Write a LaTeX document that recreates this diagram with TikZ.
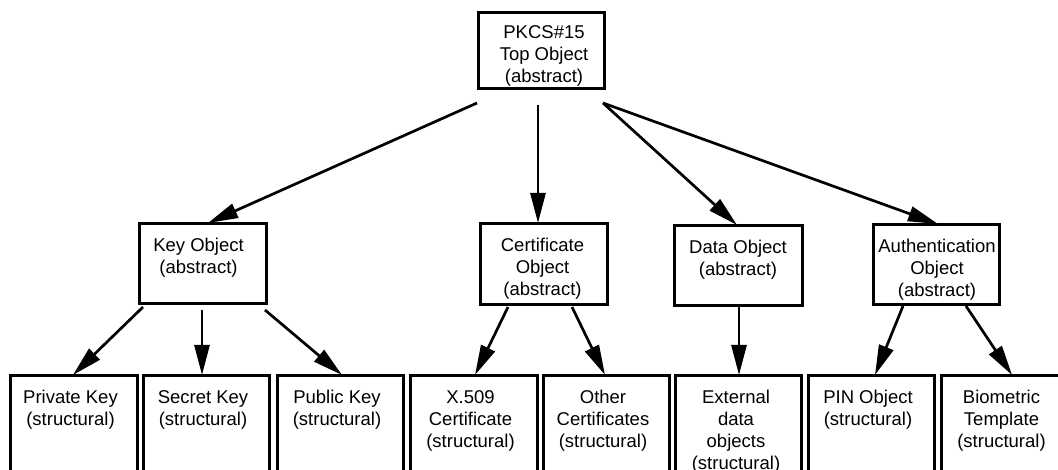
\documentclass[tikz,border=0pt]{standalone}
\usepackage{fontspec}
\setmainfont{Liberation Sans}
\usetikzlibrary{arrows.meta,calc}
\begin{document}
\begin{tikzpicture}[x=1pt,y=-1pt,
  box/.style={draw, line width=3pt, rectangle, inner sep=0pt, outer sep=0pt},
  lbl/.style={inner sep=0pt, align=center, anchor=north,
    font=\fontsize{18.5}{22}\selectfont},
  arr/.style={draw, line width=2.7pt, -{Triangle[length=30pt,width=15pt]}}]
\useasboundingbox (0,0) rectangle (1058,470);
\clip (0,0) rectangle (1058,470);

% abstract object classes
\node[box, minimum width=126pt, minimum height=76pt] (top)  at (541,51)    {};
\node[box, minimum width=127pt, minimum height=80pt] (key)  at (202.5,264) {};
\node[box, minimum width=127pt, minimum height=81pt] (cert) at (543.5,264.5) {};
\node[box, minimum width=128pt, minimum height=80pt] (data) at (738,266)   {};
\node[box, minimum width=126pt, minimum height=80pt] (auth) at (936,265)   {};

% structural object classes (running past the lower edge)
\node[box, minimum width=127pt, minimum height=104pt] (priv) at (73.5,428)  {};
\node[box, minimum width=126pt, minimum height=104pt] (sec)  at (206,428)   {};
\node[box, minimum width=126pt, minimum height=104pt] (pub)  at (340,428)   {};
\node[box, minimum width=127pt, minimum height=104pt] (x509) at (473.5,428) {};
\node[box, minimum width=126pt, minimum height=104pt] (oth)  at (606,428)   {};
\node[box, minimum width=126pt, minimum height=104pt] (ext)  at (738,428)   {};
\node[box, minimum width=126pt, minimum height=104pt] (pin)  at (871,428)   {};
\node[box, minimum width=127pt, minimum height=104pt] (bio)  at (1004.5,428) {};

% box captions, top-aligned
\node[lbl] (top-t)  at ([xshift=3pt,yshift=-12pt]top.north)  {PKCS\#15\\Top Object\\(abstract)};
\node[lbl] (key-t)  at ([xshift=-4pt,yshift=-14pt]key.north)  {Key Object\\(abstract)};
\node[lbl] (cert-t) at ([xshift=-1pt,yshift=-14pt]cert.north) {Certificate\\Object\\(abstract)};
\node[lbl] (data-t) at ([yshift=-14pt]data.north) {Data Object\\(abstract)};
\node[lbl] (auth-t) at ([xshift=1pt,yshift=-14pt]auth.north) {Authentication\\Object\\(abstract)};
\node[lbl] (priv-t) at ([xshift=-3pt,yshift=-14pt]priv.north) {Private Key\\(structural)};
\node[lbl] (sec-t)  at ([xshift=-3pt,yshift=-14pt]sec.north)  {Secret Key\\(structural)};
\node[lbl] (pub-t)  at ([xshift=-3pt,yshift=-14pt]pub.north)  {Public Key\\(structural)};
\node[lbl] (x509-t) at ([xshift=-3pt,yshift=-14pt]x509.north) {X.509\\Certificate\\(structural)};
\node[lbl] (oth-t)  at ([xshift=-3pt,yshift=-14pt]oth.north)  {Other\\Certificates\\(structural)};
\node[lbl] (ext-t)  at ([xshift=-2pt,yshift=-14pt]ext.north)  {External\\data\\objects\\(structural)};
\node[lbl] (pin-t)  at ([xshift=-3pt,yshift=-14pt]pin.north)  {PIN Object\\(structural)};
\node[lbl] (bio-t)  at ([xshift=-3pt,yshift=-14pt]bio.north)  {Biometric\\Template\\(structural)};

% inheritance arrows
\draw[arr] ($(top.south west)+(-1,14)$) -- ($(key.north)+(5.5,-1)$);
\draw[arr] ($(top.south)+(-3,16)$)      -- ($(cert.north)+(-5.5,-1)$);
\draw[arr] ($(top.south east)+(-1,14)$) -- ($(data.north)+(-1,-1)$);
\draw[arr] ($(top.south east)+(-1,14)$) -- ($(auth.north)+(2,-1)$);

\draw[arr] ($(key.south west)+(4,3)$)   -- ($(priv.north)+(-0.5,-1)$);
\draw[arr] ($(key.south)+(-0.5,6)$)     -- ($(sec.north)+(-4,-1)$);
\draw[arr] ($(key.south east)+(-1,6)$)  -- ($(pub.north)+(2,-1)$);

\draw[arr] ($(cert.south)+(-35.5,2)$)   -- ($(x509.north)+(1.5,-1)$);
\draw[arr] ($(cert.south)+(28.5,2)$)    -- ($(oth.north)+(-1,-1)$);

\draw[arr] ($(data.south)+(1,1)$)       -- ($(ext.north)+(1,-1)$);

\draw[arr] ($(auth.south)+(-33,1)$)     -- ($(pin.north)+(4,-1)$);
\draw[arr] ($(auth.south)+(30,1)$)      -- ($(bio.north)+(7.5,-1)$);
\end{tikzpicture}
\end{document}
